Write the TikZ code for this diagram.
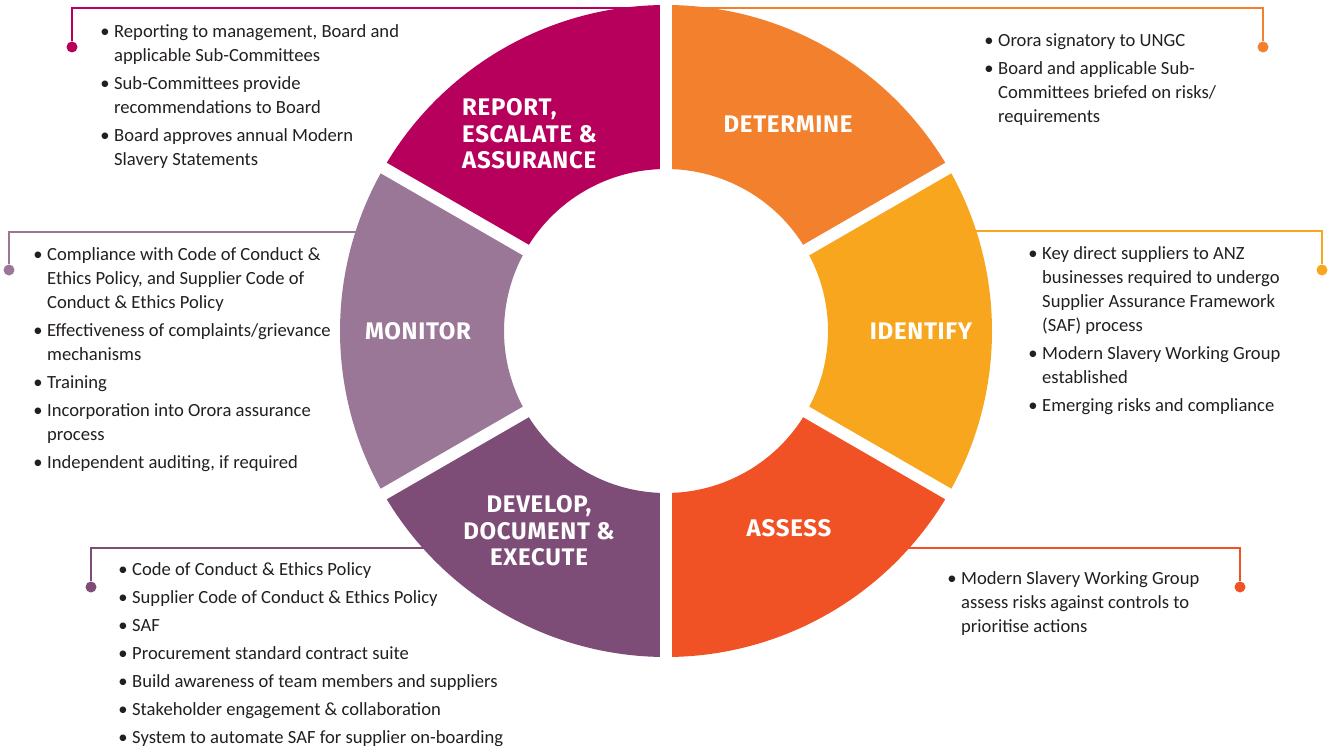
\documentclass[tikz,border=0pt]{standalone}
\usepackage{fontspec}
\setmainfont{Carlito}
\newfontfamily\headfont{Fira Sans}[LetterSpace=3]
\usetikzlibrary{positioning,calc}
\definecolor{repcol}{RGB}{183,0,92}
\definecolor{detcol}{RGB}{243,128,45}
\definecolor{idecol}{RGB}{247,166,30}
\definecolor{asscol}{RGB}{240,82,37}
\definecolor{devcol}{RGB}{125,77,120}
\definecolor{moncol}{RGB}{154,119,150}
\definecolor{txtcol}{RGB}{35,31,32}
\newcommand{\bul}{\llap{\textbullet\hspace{4.5pt}}}

\begin{document}
\begin{tikzpicture}[x=1pt,y=-1pt,
  link/.style={draw=#1,line width=2pt},
  dot/.style={circle,fill=#1,inner sep=0pt,minimum size=11pt},
  head/.style={text=white,inner sep=0pt,font=\headfont\bfseries\fontsize{24}{26.5}\selectfont},
  body/.style={text=txtcol,inner sep=0pt,anchor=north west,align=left,font=\fontsize{18.6}{24}\selectfont}]
\useasboundingbox (0,0) rectangle (1332,746);
\coordinate (ctr) at (666,331);

% connectors, under the ring
\node[dot=repcol] (repdot) at (72,47) {};
\node[dot=detcol] (detdot) at (1263,47) {};
\node[dot=moncol] (mondot) at (9,270) {};
\node[dot=idecol] (idedot) at (1322,270) {};
\node[dot=devcol] (devdot) at (91,587) {};
\node[dot=asscol] (assdot) at (1240,587) {};
\coordinate (repend) at (655,8);
\coordinate (detend) at (678,8);
\coordinate (monend) at (400,232);
\coordinate (ideend) at (950,231);
\coordinate (devend) at (450,548);
\coordinate (assend) at (900,548);
\draw[link=repcol] (repdot) |- (repend);
\draw[link=detcol] (detdot) |- (detend);
\draw[link=moncol] (mondot) |- (monend);
\draw[link=idecol] (idedot) |- (ideend);
\draw[link=devcol] (devdot) |- (devend);
\draw[link=asscol] (assdot) |- (assend);

% ring
\begin{scope}[shift={(ctr)}]
\foreach \a/\b/\c in {-90/-30/detcol, -30/30/idecol, 30/90/asscol, 90/150/devcol, 150/210/moncol, 210/270/repcol}
  \fill[\c] (\a:326) arc[start angle=\a, end angle=\b, radius=326] -- (\b:162) arc[start angle=\b, end angle=\a, radius=162] -- cycle;
\foreach \a in {-90,-30,...,210}
  \draw[white,line width=12pt] (0,0) -- (\a:332);
\end{scope}

% headings
\node[head,anchor=north west,align=left] (rephead) at (462,98.5) {REPORT,\\ESCALATE \&\\ASSURANCE};
\node[head] (dethead) at (788,124) {DETERMINE};
\node[head] (idehead) at (921,331) {IDENTIFY};
\node[head] (asshead) at (789,528) {ASSESS};
\node[head,anchor=north,align=center] (devhead) at (539,495.5) {DEVELOP,\\DOCUMENT \&\\EXECUTE};
\node[head] (monhead) at (418,331) {MONITOR};

% bullet lists
\node[body] (reptext) at (114,24) {\bul Reporting to management, Board and\\applicable Sub-Committees\\[4pt]
  \bul Sub-Committees provide\\recommendations to Board\\[4pt]
  \bul Board approves annual Modern\\Slavery Statements};
\node[body] (dettext) at (998,34) {\bul Orora signatory to UNGC\\[4pt]
  \bul Board and applicable Sub-\\Committees briefed on risks/\\requirements};
\node[body] (montext) at (47,247) {\bul Compliance with Code of Conduct \&\\Ethics Policy, and Supplier Code of\\Conduct \& Ethics Policy\\[4pt]
  \bul Effectiveness of complaints/grievance\\mechanisms\\[4pt]
  \bul Training\\[4pt]
  \bul Incorporation into Orora assurance\\process\\[4pt]
  \bul Independent auditing, if required};
\node[body] (idetext) at (1042,246) {\bul Key direct suppliers to ANZ\\businesses required to undergo\\Supplier Assurance Framework\\(SAF) process\\[4pt]
  \bul Modern Slavery Working Group\\established\\[4pt]
  \bul Emerging risks and compliance};
\node[body] (devtext) at (132,562) {\bul Code of Conduct \& Ethics Policy\\[4pt]
  \bul Supplier Code of Conduct \& Ethics Policy\\[4pt]
  \bul SAF\\[4pt]
  \bul Procurement standard contract suite\\[4pt]
  \bul Build awareness of team members and suppliers\\[4pt]
  \bul Stakeholder engagement \& collaboration\\[4pt]
  \bul System to automate SAF for supplier on-boarding};
\node[body] (asstext) at (961,571) {\bul Modern Slavery Working Group\\assess risks against controls to\\prioritise actions};
\end{tikzpicture}
\end{document}
